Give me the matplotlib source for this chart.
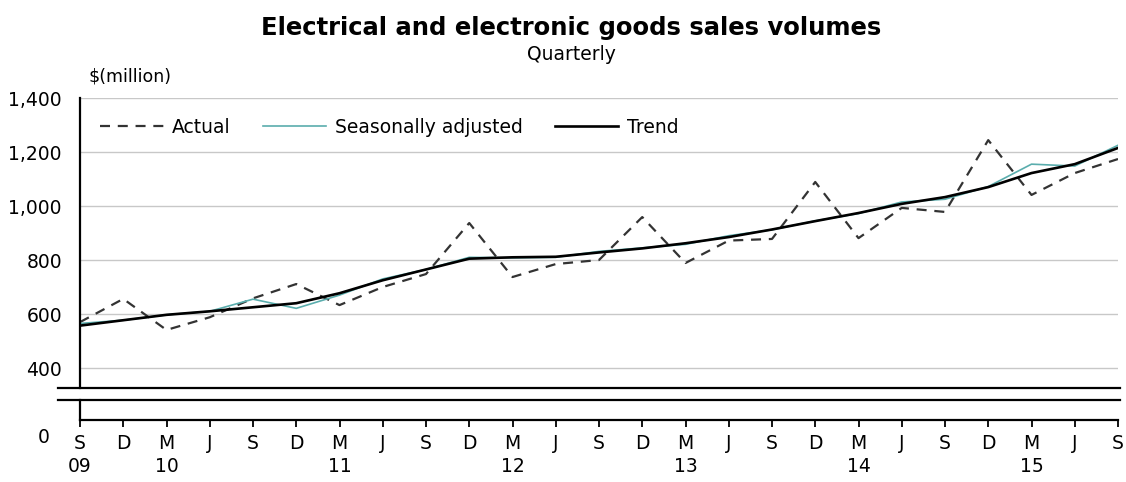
import matplotlib
matplotlib.use("Agg")
import matplotlib.pyplot as plt
from matplotlib.lines import Line2D

plt.rcParams["font.family"] = ["DejaVu Sans"]

# quarterly, Sep 2009 .. Sep 2015
months = ["S", "D", "M", "J"] * 6 + ["S"]
years = {0: "09", 2: "10", 6: "11", 10: "12", 14: "13", 18: "14", 22: "15"}

actual = [570, 656, 541, 588, 658, 711, 633, 700, 748, 937, 737, 785, 800,
          959, 789, 872, 878, 1089, 881, 993, 978, 1244, 1041, 1122, 1174]
seas_adj = [565, 577, 597, 610, 655, 621, 670, 730, 765, 810, 808, 810, 832,
            845, 858, 890, 912, 945, 972, 1015, 1025, 1072, 1155, 1148, 1225]
trend = [557, 577, 597, 610, 625, 640, 677, 725, 765, 805, 810, 812, 828,
         843, 862, 885, 913, 944, 974, 1008, 1033, 1070, 1122, 1155, 1215]

W, H = 1126, 482
FS = 13.5
fig = plt.figure(figsize=(W / 100, H / 100), dpi=100)

x0, x1 = 80, 1118
ax = fig.add_axes([x0 / W, (H - 388) / H, (x1 - x0) / W, 290 / H])
ax2 = fig.add_axes([x0 / W, (H - 420) / H, (x1 - x0) / W, 20 / H])

xs = list(range(len(actual)))
ax.plot(xs, actual, color="#333333", lw=1.6, ls=(0, (4.5, 3.5)), label="Actual")
ax.plot(xs, seas_adj, color="#5aadad", lw=1.2, label="Seasonally adjusted")
ax.plot(xs, trend, color="black", lw=1.9, label="Trend")

ax.set_xlim(0, 24)
ax.set_ylim(326, 1400)
ax.set_yticks([400, 600, 800, 1000, 1200, 1400])
ax.set_yticklabels([f"{v:,}" for v in [400, 600, 800, 1000, 1200, 1400]],
                   fontsize=FS)
ax.tick_params(axis="y", length=0, pad=13)
ax.set_xticks([])
ax.grid(axis="y", color="#c8c8c8", lw=1.0)
ax.set_axisbelow(True)
for s in ["top", "right", "bottom"]:
    ax.spines[s].set_visible(False)
ax.spines["left"].set_linewidth(1.6)

ax.legend(loc="upper left", bbox_to_anchor=(0.003, 0.99), ncol=3,
          frameon=False, fontsize=FS, handlelength=3.4, handletextpad=0.45,
          columnspacing=1.7)

ax2.set_xlim(0, 24)
ax2.set_ylim(0, 1)
ax2.set_yticks([])
for s in ["top", "right"]:
    ax2.spines[s].set_visible(False)
ax2.spines["left"].set_linewidth(1.6)
ax2.spines["bottom"].set_linewidth(1.6)
ax2.set_xticks(xs)
ax2.set_xticklabels([m + "\n" + years.get(i, "") for i, m in enumerate(months)],
                    fontsize=FS, linespacing=1.3)
ax2.tick_params(axis="x", length=5, width=1.3, pad=5)
ax2.text(-0.035, -0.4, "0", transform=ax2.transAxes, ha="center", va="top",
         fontsize=FS)

# axis break lines
for yb in (388, 400):
    fig.add_artist(Line2D([58 / W, 1120 / W], [(H - yb) / H, (H - yb) / H],
                          color="black", lw=1.6, transform=fig.transFigure))

fig.text(571 / W, (H - 28) / H, "Electrical and electronic goods sales volumes",
         ha="center", va="center", fontsize=17.5, fontweight="bold")
fig.text(571 / W, (H - 55) / H, "Quarterly", ha="center", va="center",
         fontsize=FS)
fig.text(89 / W, (H - 76) / H, "$(million)", ha="left", va="center",
         fontsize=12.5)

fig.savefig("out.png", dpi=100)
